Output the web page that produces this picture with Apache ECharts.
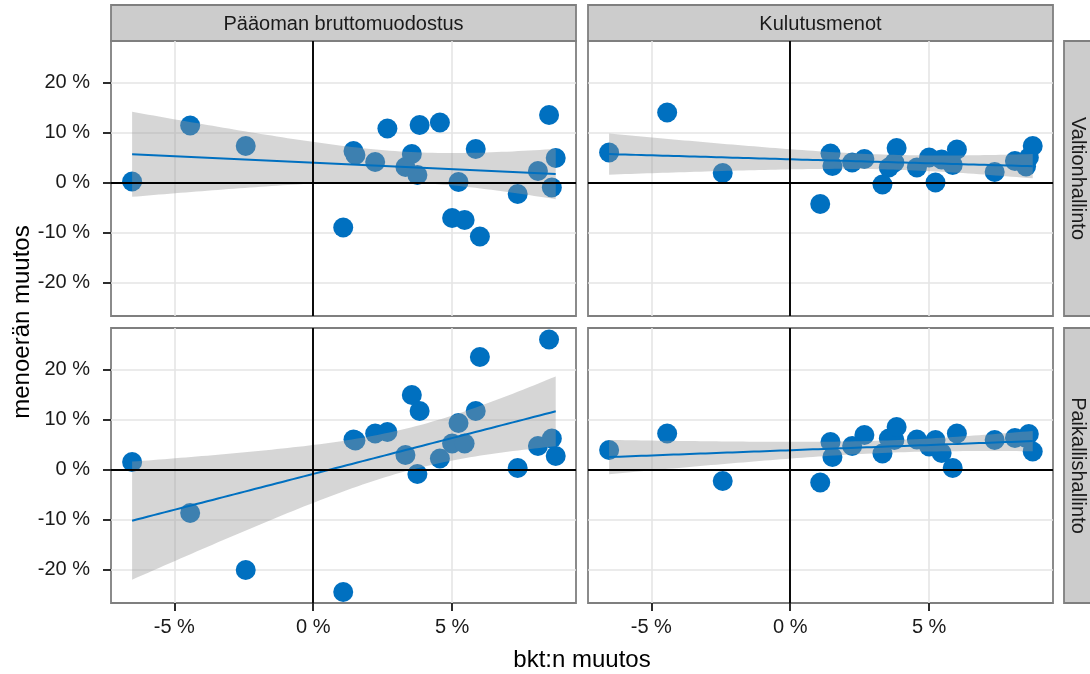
<!DOCTYPE html>
<html>
<head>
<meta charset="utf-8">
<script src="https://cdn.jsdelivr.net/npm/echarts@6/dist/echarts.min.js"></script>
<style>
html,body{margin:0;padding:0;background:#fff;}
#c{width:1090px;height:674px;}
</style>
</head>
<body>
<div id="c"></div>
<script>
// ---- data ----
const colLabels = ['Pääoman bruttomuodostus', 'Kulutusmenot'];
const rowLabels = ['Valtionhallinto', 'Paikallishallinto'];
const xTicks = [-5, 0, 5];
const yTicks = [-20, -10, 0, 10, 20];
const xVals = [-6.52, -4.43, -2.43, 1.08, 1.45, 1.52, 2.23, 2.67, 3.32, 3.55, 3.75, 3.83, 4.56, 5.0, 5.23, 5.45, 5.85, 6.0, 7.36, 8.09, 8.49, 8.59, 8.73];
const yInvestState = [0.2, 11.4, 7.3, -9.0, 6.3, 5.5, 4.1, 10.8, 3.1, 5.7, 1.5, 11.5, 12.0, -7.1, 0.1, -7.5, 6.7, -10.8, -2.3, 2.3, 13.5, -1.0, 4.9];
const yConsState = [6.0, 14.0, 1.9, -4.3, 5.8, 3.3, 4.0, 4.7, -0.4, 3.0, 4.0, 6.9, 3.0, 5.0, 0.0, 4.6, 3.5, 6.6, 2.1, 4.3, 3.2, 5.0, 7.3];
const yInvestLocal = [1.5, -8.7, -20.1, -24.5, 6.0, 5.8, 7.2, 7.5, 2.9, 14.9, -0.9, 11.7, 2.2, 5.2, 9.3, 5.2, 11.7, 22.5, 0.3, 4.7, 26.0, 6.2, 2.7];
const yConsLocal = [3.9, 7.2, -2.3, -2.6, 5.5, 2.5, 4.7, 6.9, 3.2, 6.2, 5.9, 8.5, 6.0, 4.6, 5.9, 3.3, 0.3, 7.2, 5.9, 6.3, 6.3, 7.1, 3.6];

// panel order: top-left, top-right, bottom-left, bottom-right
const panelY = [yInvestState, yConsState, yInvestLocal, yConsLocal];

// ---- layout ----
const FONT = '"Liberation Sans", Arial, sans-serif';
const PW = 465, PH = 275;
const panelPos = [[111, 41], [588, 41], [111, 328], [588, 328]];
const X_MIN = -7.28, X_MAX = 9.46, Y_MIN = -26.7, Y_MAX = 28.3;
const PT = '#0070c0';

function fit(xs, ys) {
  const n = xs.length;
  const mx = xs.reduce((a, b) => a + b, 0) / n;
  const my = ys.reduce((a, b) => a + b, 0) / n;
  let sxx = 0, sxy = 0;
  for (let i = 0; i < n; i++) { sxx += (xs[i] - mx) ** 2; sxy += (xs[i] - mx) * (ys[i] - my); }
  const b = sxy / sxx, a = my - b * mx;
  let sse = 0;
  for (let i = 0; i < n; i++) sse += (ys[i] - a - b * xs[i]) ** 2;
  const s = Math.sqrt(sse / (n - 2));
  const t = 2.0796; // t(0.975, df=21)
  const lo = Math.min(...xs), hi = Math.max(...xs);
  const upper = [], lower = [], line = [];
  const N = 80;
  for (let k = 0; k < N; k++) {
    const x = lo + (hi - lo) * k / (N - 1);
    const yh = a + b * x;
    const se = s * Math.sqrt(1 / n + (x - mx) ** 2 / sxx);
    upper.push([x, yh + t * se]);
    lower.push([x, yh - t * se]);
    line.push([x, yh]);
  }
  return { upper, lower, line };
}

const grids = [], xAxes = [], yAxes = [], series = [];
panelPos.forEach((p, i) => {
  const bottom = i >= 2, left = i % 2 === 0;
  grids.push({ left: p[0], top: p[1], width: PW, height: PH, show: true,
    borderColor: '#7f7f7f', borderWidth: 1.8, backgroundColor: '#fff' });
  xAxes.push({ type: 'value', gridIndex: i, min: X_MIN, max: X_MAX, splitNumber: 3, position: 'bottom',
    axisLine: { show: false, onZero: false },
    axisTick: { show: bottom, length: 8, customValues: xTicks, lineStyle: { color: '#222', width: 1.9 } },
    axisLabel: { show: bottom, customValues: xTicks, margin: 14, fontSize: 20, color: '#1a1a1a', fontFamily: FONT,
      formatter: v => v + ' %' },
    splitLine: { show: true, lineStyle: { color: '#e5e5e5', width: 1.6 } } });
  yAxes.push({ type: 'value', gridIndex: i, min: Y_MIN, max: Y_MAX, splitNumber: 5, position: 'left',
    axisLine: { show: false, onZero: false },
    axisTick: { show: left, length: 8, customValues: yTicks, lineStyle: { color: '#222', width: 1.9 } },
    axisLabel: { show: left, customValues: yTicks, margin: 21, fontSize: 20, color: '#1a1a1a', fontFamily: FONT,
      formatter: v => v + ' %' },
    splitLine: { show: true, lineStyle: { color: '#e5e5e5', width: 1.6 } } });

  const ys = panelY[i];
  const f = fit(xVals, ys);
  // zero reference lines
  series.push({ type: 'line', xAxisIndex: i, yAxisIndex: i, data: [[0, 0]], showSymbol: false,
    lineStyle: { opacity: 0 }, z: 1, silent: true,
    markLine: { silent: true, symbol: 'none', label: { show: false },
      lineStyle: { color: '#000', width: 1.9, type: 'solid' },
      emphasis: { disabled: true },
      data: [{ yAxis: 0 }, { xAxis: 0 }] } });
  // points
  series.push({ type: 'scatter', xAxisIndex: i, yAxisIndex: i, z: 2, symbolSize: 20,
    itemStyle: { color: PT, opacity: 1 },
    data: xVals.map((x, k) => [x, ys[k]]) });
  // confidence band
  const poly = f.upper.concat(f.lower.slice().reverse());
  series.push({ type: 'custom', xAxisIndex: i, yAxisIndex: i, z: 3, silent: true,
    data: f.line,
    encode: { x: 0, y: 1 },
    renderItem: (params, api) => {
      if (params.dataIndex !== 0) return null;
      return { type: 'polygon', shape: { points: poly.map(q => api.coord(q)) },
        style: { fill: '#999999', opacity: 0.4 } };
    } });
  // regression line
  series.push({ type: 'line', xAxisIndex: i, yAxisIndex: i, z: 4, showSymbol: false, silent: true,
    data: f.line, lineStyle: { color: PT, width: 2 } });
});

const graphics = [];
// column strips
colLabels.forEach((t, c) => {
  const x0 = panelPos[c][0];
  graphics.push({ type: 'rect', shape: { x: x0, y: 5, width: PW, height: 36 },
    style: { fill: '#cccccc', stroke: '#7f7f7f', lineWidth: 1.8 } });
  graphics.push({ type: 'text', x: x0 + PW / 2, y: 24,
    style: { text: t, fill: '#1a1a1a', font: '20px ' + FONT, textAlign: 'center', textVerticalAlign: 'middle' } });
});
// row strips
rowLabels.forEach((t, r) => {
  const y0 = panelPos[r * 2][1];
  graphics.push({ type: 'rect', shape: { x: 1064, y: y0, width: 40, height: PH },
    style: { fill: '#cccccc', stroke: '#7f7f7f', lineWidth: 1.8 } });
  graphics.push({ type: 'text', x: 1078, y: y0 + PH / 2, rotation: -Math.PI / 2,
    style: { text: t, fill: '#1a1a1a', font: '20px ' + FONT, textAlign: 'center', textVerticalAlign: 'middle' } });
});
// axis titles
graphics.push({ type: 'text', x: 22, y: 322, rotation: Math.PI / 2,
  style: { text: 'menoerän muutos', fill: '#000', font: '24px ' + FONT, textAlign: 'center', textVerticalAlign: 'middle' } });
graphics.push({ type: 'text', x: 582, y: 660,
  style: { text: 'bkt:n muutos', fill: '#000', font: '24px ' + FONT, textAlign: 'center', textVerticalAlign: 'middle' } });

const chart = echarts.init(document.getElementById('c'), null, { renderer: 'canvas' });
chart.setOption({
  animation: false,
  backgroundColor: '#fff',
  grid: grids, xAxis: xAxes, yAxis: yAxes, series: series, graphic: graphics
});
</script>
</body>
</html>
